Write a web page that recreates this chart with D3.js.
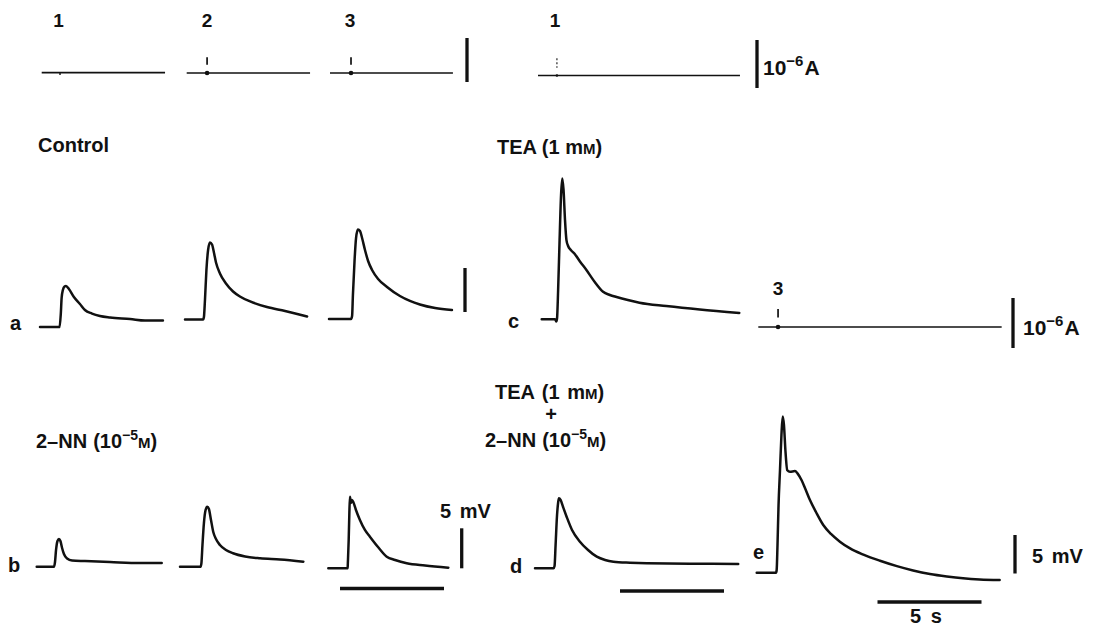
<!DOCTYPE html>
<html><head><meta charset="utf-8">
<script src="https://cdn.jsdelivr.net/npm/d3@7"></script>
<style>
body{margin:0;background:#fff}
svg{display:block}
text{font-family:"Liberation Sans",Arial,sans-serif;font-weight:bold;fill:#111}
</style>
</head><body>
<svg id="fig" width="1095" height="629"></svg>
<script>
// ---------- DATA (time in s from trace start, membrane potential in mV from pre-stimulus baseline) ----------
const stimLabels = ["1", "2", "3"];
const conditionLabels = ["Control", "TEA (1 mM)", "2–NN", "TEA (1 mM) + 2–NN"];
const panelLabels = ["a", "b", "c", "d", "e"];

// current-injection records (duration s, stimulus time s)
const currentDur  = [5.93, 5.93, 5.91, 9.71, 11.7];
const currentStim = [0.88, 0.98, 1.01, 0.91, 0.95];
const currentStimLabel = ["1", "2", "3", "1", "3"];

// Control (a)
const a1T = [0, 0.94, 1.0, 1.04, 1.10, 1.18, 1.25, 1.39, 1.63, 1.92, 2.16, 2.50, 2.88, 3.37, 4.33, 5.05, 5.91];
const a1V = [0, 0, 1.5, 3.3, 4.2, 4.6, 4.66, 4.32, 3.41, 2.61, 1.93, 1.53, 1.25, 1.08, 0.91, 0.74, 0.74];
const a2T = [0, 0.87, 0.91, 0.96, 1.03, 1.11, 1.20, 1.30, 1.39, 1.49, 1.68, 1.97, 2.31, 2.64, 3.13, 3.94, 4.81, 5.87];
const a2V = [0, 0, 0.28, 2.22, 5.63, 7.9, 8.75, 8.52, 7.61, 6.48, 5.23, 4.09, 3.18, 2.61, 2.05, 1.42, 0.97, 0.34];
const a3T = [0, 1.06, 1.11, 1.15, 1.23, 1.30, 1.39, 1.49, 1.59, 1.73, 1.88, 2.07, 2.36, 2.79, 3.41, 3.89, 4.37, 5.10, 5.91];
const a3V = [0, 0, 0.34, 2.73, 6.7, 9.2, 10.17, 10.0, 9.2, 7.84, 6.59, 5.57, 4.55, 3.64, 2.61, 2.05, 1.65, 1.25, 1.02];

// 2-NN (b)
const b1T = [0, 0.83, 0.88, 0.93, 1.0, 1.07, 1.14, 1.22, 1.31, 1.46, 1.70, 2.32, 3.52, 4.97, 6.01];
const b1V = [0, 0, 0.59, 2.09, 3.21, 3.46, 3.21, 2.34, 1.59, 1.02, 0.78, 0.71, 0.59, 0.46, 0.46];
const b2T = [0, 0.99, 1.03, 1.08, 1.15, 1.23, 1.31, 1.39, 1.49, 1.60, 1.73, 1.92, 2.21, 2.55, 3.13, 3.85, 4.81, 5.93];
const b2V = [0, 0, 0.46, 2.71, 5.46, 7.09, 7.5, 7.21, 5.84, 4.34, 3.46, 2.71, 2.09, 1.68, 1.28, 1.05, 0.9, 0.63];
const b3T = [0, 0.93, 0.94, 0.98, 1.01, 1.04, 1.09, 1.14, 1.21, 1.33, 1.52, 1.76, 2.0, 2.39, 2.81, 3.21, 3.77, 4.65, 5.77];
const b3V = [0, 0, 0.66, 3.54, 6.66, 8.95, 8.16, 8.54, 8.23, 7.29, 6.04, 4.79, 3.95, 2.66, 1.45, 1.04, 0.63, 0.35, 0.08];

// TEA (c)
const cT = [0, 0.64, 0.71, 0.74, 0.79, 0.86, 0.93, 0.99, 1.05, 1.12, 1.19, 1.27, 1.40, 1.59, 1.83, 2.15, 2.55, 2.95, 3.28, 3.6, 4.14, 4.7, 5.99, 7.6, 9.5];
const cV = [0, 0, -0.25, 0.15, 3.33, 9.0, 14.1, 16.0, 14.7, 11.3, 9.0, 8.33, 7.88, 7.42, 6.6, 5.6, 4.24, 3.13, 2.76, 2.53, 2.19, 1.89, 1.51, 1.11, 0.72];

// TEA + 2-NN (d, e)
const dT = [0, 0.89, 0.94, 0.99, 1.06, 1.11, 1.15, 1.23, 1.35, 1.52, 1.78, 2.16, 2.55, 2.97, 3.37, 3.77, 4.57, 5.37, 7.45, 9.77];
const dV = [0, 0, 0.29, 2.91, 6.66, 8.16, 8.75, 8.54, 7.66, 6.45, 4.79, 3.33, 2.29, 1.45, 1.04, 0.83, 0.7, 0.63, 0.58, 0.54];
const eT = [0, 0.93, 0.96, 1.0, 1.05, 1.12, 1.19, 1.25, 1.31, 1.38, 1.47, 1.60, 1.84, 1.96, 2.16, 2.32, 2.56, 2.85, 3.20, 3.57, 4.0, 4.49, 5.13, 5.93, 6.74, 7.52, 8.33, 9.14, 9.92, 10.72, 11.68];
const eV = [0, 0, 0.35, 3.6, 8.79, 13.3, 17.9, 20.3, 19.2, 15.9, 13.3, 13.1, 13.2, 12.9, 12.0, 11.0, 9.44, 7.88, 6.2, 5.03, 4.03, 3.15, 2.35, 1.55, 0.85, 0.29, -0.17, -0.49, -0.73, -0.88, -0.95];

// calibration bars
const barMv = 5;      // mV
const barSec = 5;     // s
const barAmp = 1;     // 10^-6 A

// ---------- DRAWING ----------
const PX_PER_S = 20.8;
const svg = d3.select("#fig");
const ink = "#111";

function scales(x0, y0, pxPerUnit) {
  return {
    x: d3.scaleLinear().domain([0, 1]).range([x0, x0 + PX_PER_S]),
    y: d3.scaleLinear().domain([0, 1]).range([y0, y0 - pxPerUnit])
  };
}

function drawTrace(t, v, x0, y0, pxPerMv) {
  const s = scales(x0, y0, pxPerMv);
  const line = d3.line().x(d => s.x(d[0])).y(d => s.y(d[1])).curve(d3.curveMonotoneX);
  svg.append("path").attr("d", line(d3.zip(t, v)))
    .attr("fill", "none").attr("stroke", ink).attr("stroke-width", 2.5)
    .attr("stroke-linejoin", "round").attr("stroke-linecap", "round");
}

function drawCurrent(i, x0, y0, pxPerUA, style) {
  const s = scales(x0, y0, pxPerUA);
  svg.append("line").attr("x1", s.x(0)).attr("x2", s.x(currentDur[i]))
    .attr("y1", s.y(0)).attr("y2", s.y(0))
    .attr("stroke", ink).attr("stroke-width", 1.7);
  const xs = s.x(currentStim[i]);
  if (style === "dash") {
    svg.append("line").attr("x1", xs).attr("x2", xs)
      .attr("y1", s.y(0.36)).attr("y2", s.y(0.19))
      .attr("stroke", ink).attr("stroke-width", 1.7);
    svg.append("circle").attr("cx", xs).attr("cy", s.y(0)).attr("r", 2.3).attr("fill", ink);
  } else if (style === "dots") {
    svg.append("line").attr("x1", xs).attr("x2", xs)
      .attr("y1", s.y(0.36)).attr("y2", s.y(0.16))
      .attr("stroke", ink).attr("stroke-width", 1.1).attr("stroke-dasharray", "2,2");
    svg.append("circle").attr("cx", xs).attr("cy", s.y(0)).attr("r", 1.3).attr("fill", ink);
  } else {
    svg.append("line").attr("x1", xs).attr("x2", xs)
      .attr("y1", s.y(0)).attr("y2", s.y(-0.05))
      .attr("stroke", ink).attr("stroke-width", 1.4);
  }
}

function vBar(x, yBottom, pxPerUnit, value, w) {
  const s = scales(0, yBottom, pxPerUnit);
  svg.append("line").attr("x1", x).attr("x2", x).attr("y1", s.y(0)).attr("y2", s.y(value))
    .attr("stroke", ink).attr("stroke-width", w || 3.3);
}
function hBar(x0, y, sec) {
  const s = scales(x0, y, 1);
  svg.append("line").attr("x1", s.x(0)).attr("x2", s.x(sec)).attr("y1", y).attr("y2", y)
    .attr("stroke", ink).attr("stroke-width", 3.6);
}

function txt(x, y, str, size, anchor) {
  return svg.append("text").attr("x", x).attr("y", y).attr("font-size", size || 20)
    .attr("text-anchor", anchor || "start").text(str);
}
function ampLabel(x, y) {
  const t = svg.append("text").attr("x", x).attr("y", y).attr("font-size", 21);
  t.append("tspan").text("10");
  t.append("tspan").attr("dy", -9).attr("font-size", 15).text("−6");
  t.append("tspan").attr("dy", 9).attr("dx", 1).text("A");
}
function nnLabel(x, y) {
  const t = svg.append("text").attr("x", x).attr("y", y).attr("font-size", 20);
  t.append("tspan").text("2–NN");
  t.append("tspan").attr("dx", 6).text("(10");
  t.append("tspan").attr("dy", -8).attr("font-size", 14).text("−5");
  t.append("tspan").attr("dy", 8).attr("font-size", 15).text("M");
  t.append("tspan").text(")");
}
function teaLabel(x, y, ws) {
  const t = svg.append("text").attr("x", x).attr("y", y).attr("font-size", 20).attr("word-spacing", ws);
  t.append("tspan").text("TEA (1 m");
  t.append("tspan").attr("font-size", 15).text("M");
  t.append("tspan").text(")");
}

// top current records
drawCurrent(0, 41.7, 72.7, 44, "tick");
drawCurrent(1, 186.7, 73, 44, "dash");
drawCurrent(2, 330, 73, 44, "dash");
drawCurrent(3, 538, 75.5, 48, "dots");
drawCurrent(4, 758.3, 327, 50, "dash");
vBar(467, 82, 44, barAmp);
vBar(757, 88, 48, barAmp);
vBar(1013, 348, 50, barAmp);
ampLabel(763, 75);
ampLabel(1023, 335);

txt(58.5, 27, stimLabels[0], 19, "middle");
txt(207, 27, stimLabels[1], 19, "middle");
txt(350, 27, stimLabels[2], 19, "middle");
txt(555, 27, currentStimLabel[3], 19, "middle");
txt(778, 295, currentStimLabel[4], 19, "middle");

// condition labels
txt(38, 152, conditionLabels[0], 20);
teaLabel(497, 154, 0);
nnLabel(36, 448);
teaLabel(495, 399, 2);
txt(551, 421, "+", 20, "middle");
nnLabel(485, 447);

// voltage traces
drawTrace(a1T, a1V, 40, 327, 8.8);
drawTrace(a2T, a2V, 185, 319.5, 8.8);
drawTrace(a3T, a3V, 329, 319, 8.8);
drawTrace(cT, cV, 541.7, 319.3, 8.8);
drawTrace(b1T, b1V, 36.7, 566.7, 8.0);
drawTrace(b2T, b2V, 180, 566.7, 8.0);
drawTrace(b3T, b3V, 328.3, 568.3, 8.0);
drawTrace(dT, dV, 535, 568.3, 8.0);
drawTrace(eT, eV, 756.7, 572.7, 7.7);

// calibration bars
vBar(465, 312, 8.8, barMv);
vBar(461.7, 568.3, 8.0, barMv);
vBar(1015, 573.5, 7.7, barMv);
hBar(340, 588.5, barSec);
hBar(620, 591, barSec);
hBar(877.5, 602, barSec);
txt(440, 518, "5 mV", 20).attr("word-spacing", 3);
txt(1032, 563, "5 mV", 20).attr("word-spacing", 3);
txt(926, 623, "5 s", 20, "middle").attr("word-spacing", 4);

// panel letters
txt(10, 330, panelLabels[0], 20);
txt(8, 572, panelLabels[1], 20);
txt(508, 328, panelLabels[2], 20);
txt(510, 573, panelLabels[3], 20);
txt(753, 559, panelLabels[4], 20);
</script>
</body></html>
